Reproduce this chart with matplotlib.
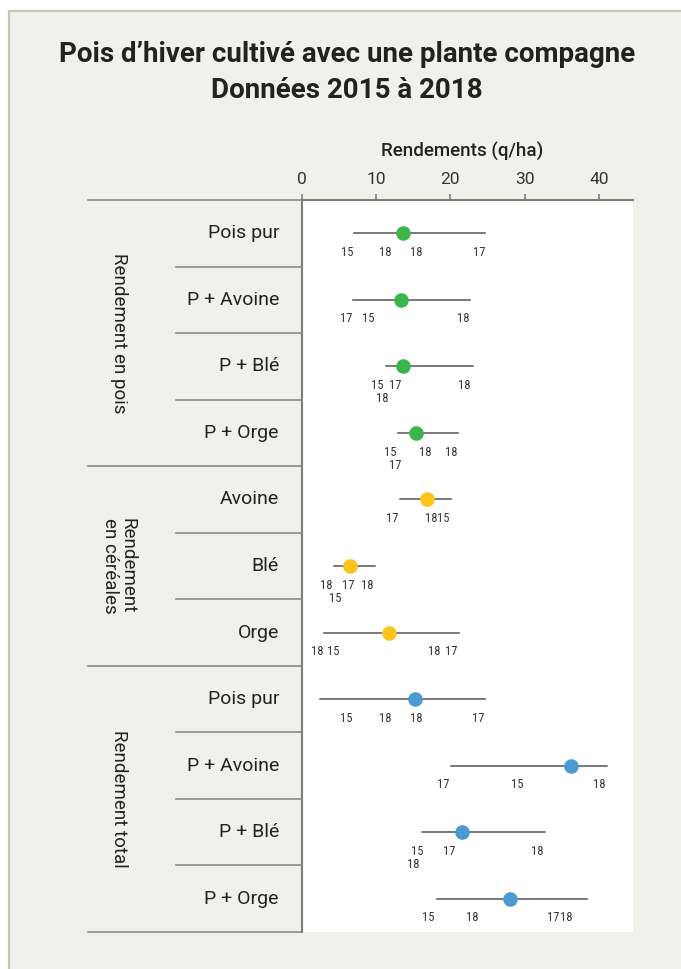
import matplotlib
matplotlib.use("Agg")
import matplotlib.pyplot as plt
from matplotlib import font_manager
from matplotlib.patches import Rectangle
from matplotlib.transforms import blended_transform_factory

# rows, top to bottom
categories = ["Pois pur", "P + Avoine", "P + Blé", "P + Orge",
              "Avoine", "Blé", "Orge",
              "Pois pur", "P + Avoine", "P + Blé", "P + Orge"]
groups = ["Rendement en pois", "Rendement\nen céréales", "Rendement total"]
group_rows = [4, 3, 4]
group_colors = ["#3cb54a", "#fcc419", "#4a9ad4"]

means = [13.65, 13.3, 13.65, 15.3, 16.9, 6.5, 11.7, 15.2, 36.2, 21.5, 28.0]
lows = [7.05, 6.9, 11.3, 12.9, 13.2, 4.35, 3.0, 2.4, 20.1, 16.2, 18.15]
highs = [24.7, 22.7, 23.0, 21.0, 20.1, 9.9, 21.1, 24.7, 41.1, 32.8, 38.45]

# yearly values (label = year), per row
years = [
    [("15", 6.9), ("18", 12.1), ("18", 16.2), ("17", 24.7)],
    [("17", 6.8), ("15", 9.8), ("18", 22.6)],
    [("15", 11.0), ("17", 13.4), ("18", 22.7), ("18", 11.6)],
    [("15", 12.8), ("18", 17.5), ("18", 20.9), ("17", 13.4)],
    [("17", 13.0), ("18", 18.3), ("15", 19.9)],
    [("18", 4.1), ("17", 7.1), ("18", 9.7), ("15", 5.3)],
    [("18", 2.9), ("15", 5.0), ("18", 18.7), ("17", 20.9)],
    [("15", 6.8), ("18", 12.0), ("18", 16.2), ("17", 24.6)],
    [("17", 19.8), ("15", 29.8), ("18", 40.9)],
    [("15", 16.4), ("17", 20.6), ("18", 32.5), ("18", 15.8)],
    [("15", 17.8), ("18", 23.8), ("17", 34.7), ("18", 36.5)],
]
xticks = [0, 10, 20, 30, 40]


def pick(*names):
    have = {f.name for f in font_manager.fontManager.ttflist}
    for n in names:
        if n in have:
            return n
    return "DejaVu Sans"


FONT = pick("Roboto", "Open Sans", "DejaVu Sans")
NARROW = pick("Roboto Condensed", "Liberation Sans Narrow", "DejaVu Sans Condensed", "Roboto")
plt.rcParams["font.family"] = [FONT, "DejaVu Sans"]

W, H = 681, 969
fig = plt.figure(figsize=(W / 100, H / 100), dpi=100, facecolor="white")
fig.add_artist(Rectangle((9 / W, -0.1), 1.2, 1.1 - 10.5 / H, transform=fig.transFigure,
                         facecolor="#f0f1ec", edgecolor="#c5c7b3", lw=1.6, zorder=0))

ax = fig.add_axes([302 / W, 1 - 932 / H, 331 / W, 732 / H])
ax.set_facecolor("white")
n = len(categories)
ax.set_ylim(n - 0.5, -0.5)
ax.set_xlim(0, 44.6)

for s in ["right", "bottom"]:
    ax.spines[s].set_visible(False)
for s in ["top", "left"]:
    ax.spines[s].set_color("#7d7d7d")
    ax.spines[s].set_linewidth(1.5)

ax.xaxis.tick_top()
ax.set_xticks(xticks)
ax.tick_params(axis="x", length=4, width=1.2, color="#7d7d7d", pad=5,
               labelsize=12.5, labelcolor="#333333")
ax.set_yticks([])
ax.set_xlabel("Rendements (q/ha)", fontsize=13.5, fontweight="medium", color="#222222")
ax.xaxis.set_label_position("top")
ax.xaxis.set_label_coords(0.485, 1.0 + 43 / 732)

row_color = []
for g, k in enumerate(group_rows):
    row_color += [group_colors[g]] * k

for i in range(n):
    ax.plot([lows[i], highs[i]], [i, i], color="#555555", lw=1.1, zorder=2)
    ax.scatter(means[i], i, s=110, color=row_color[i], zorder=3, linewidths=0)
    # year labels, pushed to a second line when they would overlap
    placed = []
    for lab, v in years[i]:
        level = 0
        while any(abs(v - pv) < 1.45 and pl == level for pv, pl in placed):
            level += 1
        placed.append((v, level))
        ax.annotate(lab, (v, i), xytext=(0, -13.8 - 9.6 * level), textcoords="offset points",
                    ha="right", va="center", fontsize=9, color="#333333", family=NARROW)

# left-hand table: separators, row labels, group labels
tr = blended_transform_factory(fig.transFigure, ax.transData)
bounds = [-0.5]
for k in group_rows:
    bounds.append(bounds[-1] + k)
for b in range(n + 1):
    y = b - 0.5
    x0 = 88 / W if y in bounds else 176 / W
    ax.plot([x0, 302 / W], [y, y], color="#8a8a8a", lw=1.2, transform=tr, clip_on=False)

for i, c in enumerate(categories):
    ax.text(279 / W, i, c, transform=tr, ha="right", va="center", fontsize=14,
            color="#222222")

for g, lab in enumerate(groups):
    yc = (bounds[g] + bounds[g + 1]) / 2
    ax.text(119 / W, yc, lab, transform=tr, rotation=-90, ha="center", va="center",
            fontsize=13.5, color="#222222", multialignment="center", linespacing=0.95)

fig.text(347 / W, 1 - 55 / H, "Pois d’hiver cultivé avec une plante compagne",
         ha="center", va="center", fontsize=20, fontweight="bold", color="#222222")
fig.text(347 / W, 1 - 90 / H, "Données 2015 à 2018",
         ha="center", va="center", fontsize=20, fontweight="bold", color="#222222")

fig.savefig("out.png", dpi=100, facecolor=fig.get_facecolor())
